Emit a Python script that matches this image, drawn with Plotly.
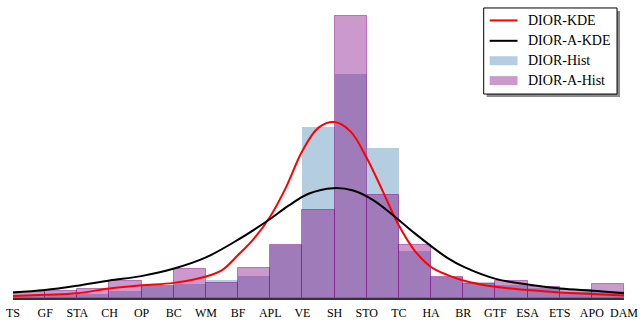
import plotly.graph_objects as go

# ---- data ----
categories = ["TS", "GF", "STA", "CH", "OP", "BC", "WM", "BF", "APL", "VE",
              "SH", "STO", "TC", "HA", "BR", "GTF", "ESA", "ETS", "APO", "DAM"]

# histogram densities for the 19 bins between consecutive category ticks
dior_hist = [0.004, 0.004, 0.005, 0.009, 0.015, 0.017, 0.023, 0.028, 0.066, 0.215,
             0.282, 0.188, 0.059, 0.026, 0.020, 0.016, 0.013, 0.008, 0.009]
dior_a_hist = [0.008, 0.009, 0.011, 0.021, 0.015, 0.037, 0.019, 0.038, 0.066, 0.111,
               0.354, 0.130, 0.067, 0.026, 0.018, 0.021, 0.014, 0.010, 0.018]

# KDE curves (x in category-index units)
dior_kde_x = [0.0, 1.0, 2.0, 3.0, 4.0, 5.0, 6.0, 6.5, 7.0, 7.5, 8.0, 8.5, 9.0, 9.5,
              10.0, 10.5, 11.0, 11.5, 12.0, 12.5, 13.0, 13.5, 14.0, 15.0, 16.0,
              17.0, 18.0, 19.0]
dior_kde_y = [0.0025, 0.004, 0.006, 0.012, 0.016, 0.019, 0.027, 0.035, 0.054, 0.075,
              0.1025, 0.140, 0.185, 0.214, 0.221, 0.209, 0.176, 0.134, 0.091, 0.059,
              0.039, 0.029, 0.022, 0.014, 0.010, 0.007, 0.005, 0.003]
dior_a_kde_x = [0.00, 0.99, 2.01, 3.00, 3.99, 5.01, 6.00, 6.99, 7.95, 8.57, 9.19,
                9.96, 10.58, 11.20, 11.82, 12.44, 13.52, 14.02, 15.01, 16.00,
                17.02, 18.07, 19.00]
dior_a_kde_y = [0.007, 0.010, 0.0155, 0.022, 0.0275, 0.037, 0.051, 0.073, 0.098,
                0.116, 0.131, 0.138, 0.135, 0.123, 0.104, 0.083, 0.050, 0.039,
                0.024, 0.017, 0.012, 0.009, 0.006]

series_names = ["DIOR-KDE", "DIOR-A-KDE", "DIOR-Hist", "DIOR-A-Hist"]

# ---- styles ----
BLUE = "rgba(70,130,180,0.4)"
PURPLE = "rgba(128,0,128,0.4)"
FONT = "Liberation Serif"

W, H = 642, 324
ML, MR, MT, MB = 13, 15, 4, 24.5
PW, PH = W - ML - MR, H - MT - MB
YMAX = PH / 800.0

bin_centers = [i + 0.5 for i in range(len(dior_hist))]

fig = go.Figure()
fig.add_trace(go.Bar(x=bin_centers, y=dior_hist, width=1, name=series_names[2],
                     marker=dict(color=BLUE, line=dict(width=0)), showlegend=False))
fig.add_trace(go.Bar(x=bin_centers, y=dior_a_hist, width=1, name=series_names[3],
                     marker=dict(color=PURPLE, line=dict(color="rgba(128,0,128,0.45)", width=1)),
                     showlegend=False))
fig.add_trace(go.Scatter(x=dior_kde_x, y=dior_kde_y, mode="lines", name=series_names[0],
                         line=dict(color="red", width=2, shape="spline", smoothing=1),
                         showlegend=False))
fig.add_trace(go.Scatter(x=dior_a_kde_x, y=dior_a_kde_y, mode="lines", name=series_names[1],
                         line=dict(color="black", width=2, shape="spline", smoothing=1),
                         showlegend=False))

def px(x):
    return (x - ML) / PW

def py(y):
    return (H - MB - y) / PH

# custom legend (matplotlib-style, with shadow)
L, R, T, B = 486, 620, 8, 94.5
shapes = [
    dict(type="rect", xref="paper", yref="paper", x0=px(L + 3), x1=px(R + 3), y0=py(B + 3), y1=py(T + 3),
         fillcolor="rgba(0,0,0,0.45)", line=dict(width=0), layer="above"),
    dict(type="rect", xref="paper", yref="paper", x0=px(L), x1=px(R), y0=py(B), y1=py(T),
         fillcolor="white", line=dict(color="black", width=1), layer="above"),
]
rows = [20.5, 41, 61, 81]
shapes.append(dict(type="line", xref="paper", yref="paper", x0=px(492), x1=px(520), y0=py(rows[0]), y1=py(rows[0]),
                   line=dict(color="red", width=2), layer="above"))
shapes.append(dict(type="line", xref="paper", yref="paper", x0=px(492), x1=px(520), y0=py(rows[1]), y1=py(rows[1]),
                   line=dict(color="black", width=2), layer="above"))
shapes.append(dict(type="rect", xref="paper", yref="paper", x0=px(492), x1=px(520), y0=py(rows[2] + 4.5), y1=py(rows[2] - 4.5),
                   fillcolor=BLUE, line=dict(width=0), layer="above"))
shapes.append(dict(type="rect", xref="paper", yref="paper", x0=px(492), x1=px(520), y0=py(rows[3] + 4.5), y1=py(rows[3] - 4.5),
                   fillcolor=PURPLE, line=dict(width=0), layer="above"))
annotations = [dict(xref="paper", yref="paper", x=px(529), y=py(r), text=n, showarrow=False,
                    xanchor="left", yanchor="middle", font=dict(family=FONT, size=14, color="black"))
               for r, n in zip(rows, series_names)]

fig.update_layout(
    width=W, height=H,
    margin=dict(l=ML, r=MR, t=MT, b=MB, pad=0),
    paper_bgcolor="white", plot_bgcolor="white",
    barmode="overlay", bargap=0,
    showlegend=False,
    shapes=shapes, annotations=annotations,
    font=dict(family=FONT, size=12, color="black"),
    xaxis=dict(range=[0, len(categories) - 1], tickmode="array",
               tickvals=list(range(len(categories))), ticktext=categories,
               showgrid=False, zeroline=False, showline=True, linecolor="#333333", linewidth=1.5,
               ticks="", ticklabelstandoff=3, tickfont=dict(family=FONT, size=12, color="black")),
    yaxis=dict(range=[0, YMAX], visible=False, showgrid=False, zeroline=False),
)

fig.write_html("out.html", config={"displayModeBar": False},
               post_script="document.body.style.margin='0';document.body.style.padding='0';")
